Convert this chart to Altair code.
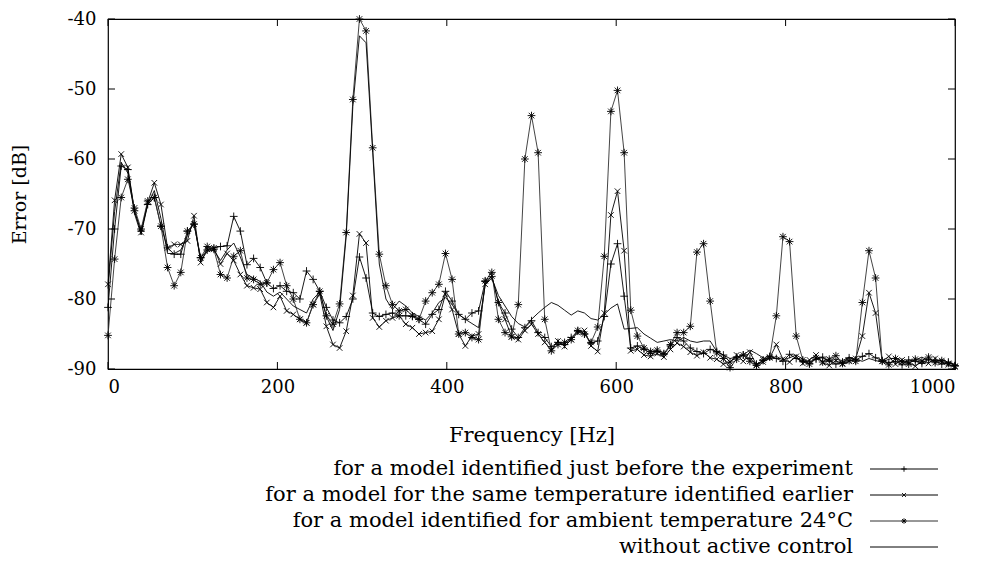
import altair as alt
import pandas as pd

# frequency grid (FFT bins, 1000/128 Hz spacing)
freq = [k * 1000.0 / 128.0 for k in range(129)]

names = [
    "for a model identified just before the experiment",
    "for a model for the same temperature identified earlier",
    "for a model identified for ambient temperature 24°C",
    "without active control",
]

just_before = [
    -81.2, -70.0, -61.0, -61.5, -67.4, -70.3, -66.5, -65.5, -69.6, -72.7,
    -73.6, -73.6, -70.3, -69.3, -74.1, -73.0, -72.7, -72.5, -72.4, -68.2,
    -70.3, -75.1, -74.2, -75.5, -77.7, -78.5, -78.1, -78.9, -79.1, -80.0,
    -76.0, -77.2, -78.9, -81.2, -83.0, -83.4, -82.5, -80.0, -74.0, -77.0,
    -82.0, -82.5, -82.2, -82.0, -82.4, -82.4, -82.5, -82.9, -83.6, -82.2,
    -81.5, -78.9, -80.3, -82.2, -82.9, -82.0, -81.7, -77.5, -76.8, -80.5,
    -82.0, -84.3, -85.5, -84.1, -83.1, -84.8, -85.5, -86.8, -86.2, -86.5,
    -85.5, -84.6, -85.0, -86.3, -86.0, -82.5, -75.0, -72.1, -79.6, -87.0,
    -86.7, -87.2, -87.8, -87.5, -87.9, -86.7, -85.5, -86.0, -87.0, -87.5,
    -87.8, -87.2, -87.5, -88.0, -89.0, -88.3, -88.0, -88.5, -89.3, -88.8,
    -88.2, -88.5, -88.9, -87.9, -88.5, -88.9, -89.2, -88.6, -88.3, -88.9,
    -89.3, -89.0, -88.4, -88.7, -88.2, -87.8, -88.4, -88.8, -89.1, -88.9,
    -89.4, -88.7, -88.9, -89.2, -88.6, -88.8, -89.3, -89.0, -89.5,
]

same_temp = [
    -77.9, -65.9, -59.3, -61.2, -67.4, -70.5, -66.2, -63.4, -66.5, -72.7,
    -72.2, -72.2, -71.7, -68.1, -74.8, -72.9, -72.7, -75.0, -73.5, -74.5,
    -76.5, -78.1, -78.4, -78.6, -80.5, -81.2, -79.6, -81.7, -82.2, -82.9,
    -83.4, -80.8, -79.3, -83.9, -86.5, -87.0, -84.6, -79.5, -70.7, -72.0,
    -82.7, -84.0, -83.1, -82.7, -82.4, -83.6, -84.1, -85.0, -84.8, -84.6,
    -82.9, -79.3, -81.5, -85.0, -86.7, -85.3, -85.0, -77.9, -76.7, -80.5,
    -82.9, -85.4, -85.8, -84.5, -83.6, -85.0, -86.2, -87.3, -86.0, -86.8,
    -85.8, -84.8, -84.5, -86.7, -87.5, -82.0, -68.0, -64.6, -73.1, -87.4,
    -87.2, -88.0, -88.2, -87.8, -88.3, -87.2, -86.3, -86.8, -87.6, -88.1,
    -87.6, -88.4, -88.6, -89.3, -89.0, -88.0, -88.9, -87.6, -89.4, -89.0,
    -88.4, -86.5, -88.6, -89.0, -88.2, -89.2, -88.7, -88.0, -89.1, -89.5,
    -88.8, -89.3, -88.9, -88.5, -85.3, -79.1, -82.0, -88.9, -88.2, -89.3,
    -88.7, -89.1, -89.6, -88.9, -89.2, -88.5, -89.0, -89.4, -89.7,
]

ambient_24 = [
    -85.2, -74.3, -65.5, -62.9, -67.0, -70.0, -66.0, -65.5, -69.6, -75.5,
    -78.1, -76.2, -70.3, -69.3, -74.1, -72.5, -72.9, -76.5, -77.0, -73.9,
    -73.1, -77.0, -77.2, -77.9, -77.7, -75.8, -74.8, -78.1, -80.0, -82.9,
    -83.4, -80.8, -78.9, -82.4, -83.6, -80.7, -70.5, -51.5, -40.0, -41.7,
    -58.4, -73.6, -78.1, -80.8, -81.7, -81.5, -82.4, -82.9, -80.3, -79.1,
    -77.9, -73.5, -77.2, -85.0, -84.8, -85.5, -85.8, -77.4, -76.2, -82.9,
    -84.8, -85.4, -80.8, -60.0, -53.8, -59.1, -82.9, -87.4, -86.5, -86.2,
    -85.8, -84.5, -85.0, -86.2, -84.0, -73.9, -53.2, -50.2, -59.1, -81.6,
    -85.3, -87.0, -87.5, -87.3, -87.8, -86.5, -84.8, -84.8, -83.9, -73.3,
    -72.1, -80.3, -87.7, -88.5, -89.8, -88.6, -88.0, -88.9, -89.5, -88.7,
    -88.3, -82.4, -71.1, -71.8, -85.3, -88.7, -89.3, -88.4, -89.0, -88.6,
    -88.1, -89.2, -88.8, -88.9, -80.5, -73.1, -77.0, -88.9, -89.4, -88.5,
    -89.0, -89.3, -88.6, -88.9, -88.3, -89.1, -88.8, -89.2, -89.6,
]

no_control = [
    -78.5, -67.5, -60.5, -62.0, -67.8, -70.8, -66.5, -64.5, -68.5, -73.5,
    -73.5, -73.0, -71.0, -69.0, -74.5, -73.2, -73.0, -74.5, -73.0, -72.0,
    -74.0, -76.5, -77.0, -77.5, -79.0, -79.6, -79.0, -80.0, -81.0, -81.5,
    -82.0, -80.0, -79.0, -82.5, -84.5, -81.5, -71.0, -52.5, -42.4, -43.4,
    -59.0, -75.0, -80.0, -81.5, -80.3, -81.0, -82.0, -82.5, -83.0, -82.0,
    -80.5, -79.8, -80.8, -82.2, -82.9, -83.5, -84.1, -78.0, -77.0, -79.5,
    -81.0, -82.5, -83.5, -84.0, -82.9, -82.0, -81.2, -80.5, -80.9, -81.6,
    -82.3, -81.7, -82.0, -82.8, -83.0, -82.2, -81.3, -80.7, -84.3, -84.2,
    -84.1, -85.0, -85.6, -86.2, -86.0, -85.8, -86.0, -85.5, -86.0, -86.2,
    -86.0, -86.0, -87.5, -88.0, -88.5, -88.3, -88.0, -87.3, -87.8, -88.4,
    -88.6, -88.2, -88.7, -88.4, -88.0, -88.6, -89.0, -88.5, -88.4, -88.9,
    -88.6, -88.8, -88.3, -88.6, -88.9, -88.5, -88.8, -89.0, -88.6, -88.4,
    -88.9, -89.1, -88.7, -88.3, -88.8, -89.0, -88.6, -89.1, -89.3,
]

x_ticks = [0, 200, 400, 600, 800, 1000]
y_ticks = [-90, -80, -70, -60, -50, -40]

FONT = "DejaVu Serif"
W, H = 847, 350

rows = []
for name, vals in zip(names, [just_before, same_temp, ambient_24, no_control]):
    for f, v in zip(freq, vals):
        rows.append({"freq": f, "err": v, "series": name})
df = pd.DataFrame(rows)

plus = "M-1,0L1,0M0,-1L0,1"
cross = "M-0.72,-0.72L0.72,0.72M-0.72,0.72L0.72,-0.72"
star = "M-1,0L1,0M0,-1L0,1M-0.72,-0.72L0.72,0.72M-0.72,0.72L0.72,-0.72"

line_colors = alt.Scale(domain=names, range=["#000000", "#000000", "#303030", "#000000"])
shape_scale = alt.Scale(domain=names[:3], range=[plus, cross, star])

xs = alt.Scale(domain=[0, 1000], nice=False, zero=False)
ys = alt.Scale(domain=[-90, -40], nice=False, zero=False)
xaxis = alt.Axis(values=x_ticks, title="Frequency [Hz]", grid=False, ticks=False, tickSize=0,
                 domain=False, labelPadding=9, titlePadding=28, titleFontSize=21,
                 labelExpr="'' + datum.value")
yaxis = alt.Axis(values=y_ticks, title="Error [dB]", grid=False, ticks=False, tickSize=0,
                 domain=False, labelPadding=12, titlePadding=38, titleFontSize=19,
                 labelExpr="'' + datum.value")

X = alt.X("freq:Q", scale=xs, axis=xaxis)
Y = alt.Y("err:Q", scale=ys, axis=yaxis)

lines = alt.Chart(df).mark_line(strokeWidth=0.9).encode(
    x=X, y=Y,
    color=alt.Color("series:N", scale=line_colors, legend=None),
    detail="series:N",
)

points = alt.Chart(df).transform_filter(
    alt.FieldOneOfPredicate(field="series", oneOf=names[:3])
).mark_point(filled=False, size=60, strokeWidth=0.9, opacity=1, color="black").encode(
    x=X, y=Y,
    shape=alt.Shape("series:N", scale=shape_scale, legend=None),
)

xt = pd.DataFrame({"freq": x_ticks})
yt = pd.DataFrame({"err": y_ticks})
tick_style = dict(color="black", strokeWidth=1)
xt_bot = alt.Chart(xt).mark_rule(**tick_style).encode(x=X, y=alt.value(H), y2=alt.value(H - 7))
xt_top = alt.Chart(xt).mark_rule(**tick_style).encode(x=X, y=alt.value(0), y2=alt.value(7))
yt_left = alt.Chart(yt).mark_rule(**tick_style).encode(y=Y, x=alt.value(0), x2=alt.value(7))
yt_right = alt.Chart(yt).mark_rule(**tick_style).encode(y=Y, x=alt.value(W), x2=alt.value(W - 7))

main = alt.layer(lines, points, xt_bot, xt_top, yt_left, yt_right).properties(
    width=W, height=H, view=alt.ViewBackground(stroke="black", strokeWidth=1.2)
)

# legend (drawn below the plot, right-aligned labels with line samples)
leg = pd.DataFrame({"series": names})
LW, LH = W, 104
TX, R1, R2 = 745, 762, 830
LY = alt.Y("series:N", sort=names, axis=None, scale=alt.Scale(type="point", padding=0.5))

leg_text = alt.Chart(leg).mark_text(align="right", baseline="middle", font=FONT, fontSize=21,
                                    color="black").encode(
    y=LY, x=alt.value(TX), text="series:N")
leg_rule = alt.Chart(leg).mark_rule(strokeWidth=1).encode(
    y=LY, x=alt.value(R1), x2=alt.value(R2),
    color=alt.Color("series:N", scale=line_colors, legend=None))
leg_pts = alt.Chart(leg).transform_filter(
    alt.FieldOneOfPredicate(field="series", oneOf=names[:3])
).mark_point(filled=False, size=30, strokeWidth=0.9, opacity=1, color="black").encode(
    y=LY, x=alt.value((R1 + R2) / 2),
    shape=alt.Shape("series:N", scale=shape_scale, legend=None))

legend = alt.layer(leg_text, leg_rule, leg_pts).properties(
    width=LW, height=LH, view=alt.ViewBackground(stroke="transparent")
)

chart = alt.vconcat(main, legend, spacing=9).properties(
    padding={"left": 1, "top": 1, "right": 5, "bottom": 5}
).configure(
    font=FONT, background="white"
).configure_axis(
    labelFont=FONT, titleFont=FONT, labelFontSize=18, titleFontSize=19,
    titleFontWeight="normal", labelColor="black", titleColor="black"
).configure_view(stroke="black")

chart.save("out.html", embed_options={"renderer": "svg", "actions": False})
